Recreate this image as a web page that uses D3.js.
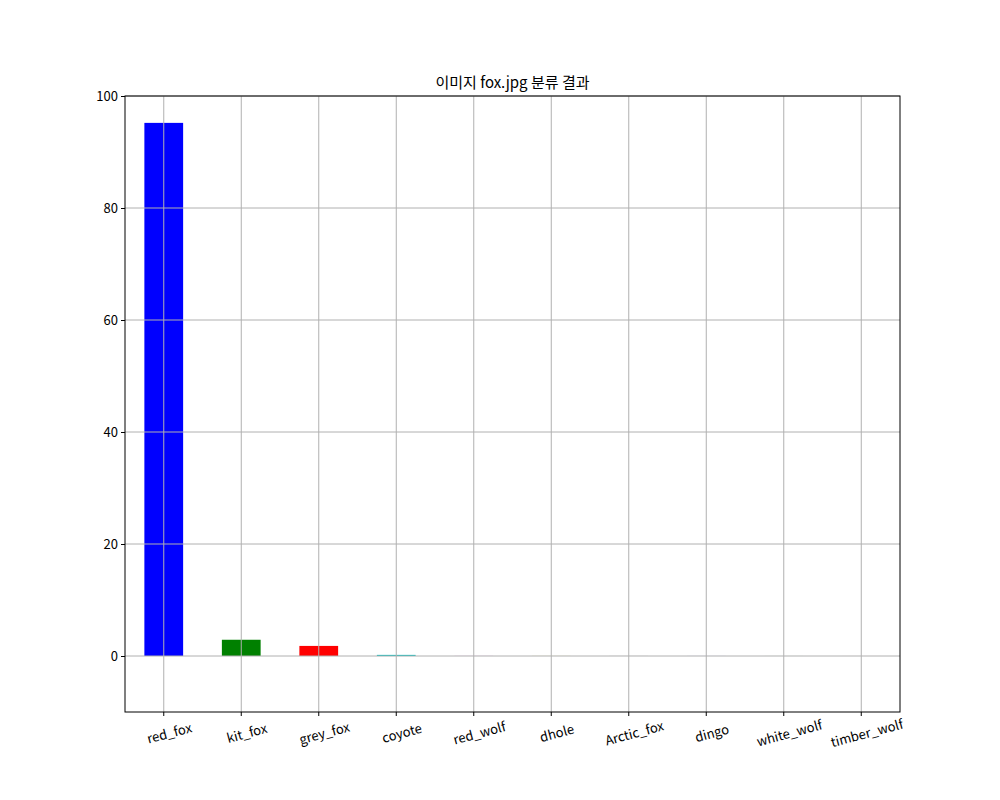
<!DOCTYPE html>
<html><head><meta charset="utf-8">
<script src="https://cdn.jsdelivr.net/npm/d3@7"></script>
<style>body{margin:0;background:#fff}text{font-family:"Noto Sans CJK KR","Noto Sans",sans-serif}</style>
</head><body><div id="chart"></div>
<script>
const categories = ["red_fox","kit_fox","grey_fox","coyote","red_wolf","dhole","Arctic_fox","dingo","white_wolf","timber_wolf"]
const values = [95.2, 2.9, 1.8, 0.2, 0.01, 0.01, 0.005, 0.005, 0.003, 0.002]
const colors = ["#0000ff","#008000","#ff0000","#00bfbf","#bf00bf","#bfbf00","#000000","#0000ff","#008000","#ff0000"]
const yTicks = [0, 20, 40, 60, 80, 100]

const width = 1000, height = 800
const m = {left: 125, right: 100, top: 96, bottom: 88}
const svg = d3.select("#chart").append("svg").attr("width", width).attr("height", height)

const x = d3.scaleBand().domain(categories).range([m.left, width - m.right])
	.paddingInner(0.5).paddingOuter(0.25)
const y = d3.scaleLinear().domain([-10, 100]).range([height - m.bottom, m.top])

svg.selectAll("rect.bar").data(values).enter()
	.append("rect").attr("class", "bar")
	.attr("x", (d, i) => x(categories[i]))
	.attr("width", x.bandwidth())
	.attr("y", d => y(d))
	.attr("height", d => y(0) - y(d))
	.attr("fill", (d, i) => colors[i])

// grid sits above the bars
const grid = svg.append("g").attr("stroke", "#b0b0b0").attr("stroke-width", 1)
grid.selectAll("line.v").data(categories).enter().append("line")
	.attr("x1", d => x(d) + x.bandwidth() / 2).attr("x2", d => x(d) + x.bandwidth() / 2)
	.attr("y1", m.top).attr("y2", height - m.bottom)
grid.selectAll("line.h").data(yTicks).enter().append("line")
	.attr("y1", d => y(d)).attr("y2", d => y(d))
	.attr("x1", m.left).attr("x2", width - m.right)

const xAxis = svg.append("g").attr("transform", `translate(0,${height - m.bottom})`)
	.call(d3.axisBottom(x).tickSizeOuter(0).tickSize(4))
xAxis.selectAll("text").attr("font-size", 13).attr("fill", "#000")
	.attr("text-anchor", "middle").attr("dy", "1.2em")
	.attr("transform", "rotate(-15) translate(0,4)")
xAxis.select(".domain").remove()

const yAxis = svg.append("g").attr("transform", `translate(${m.left},0)`)
	.call(d3.axisLeft(y).tickValues(yTicks).tickSizeOuter(0).tickSize(4))
yAxis.selectAll("text").attr("font-size", 13).attr("fill", "#000")
yAxis.select(".domain").remove()

svg.append("rect").attr("x", m.left).attr("y", m.top)
	.attr("width", width - m.left - m.right).attr("height", height - m.top - m.bottom)
	.attr("fill", "none").attr("stroke", "#000")

svg.append("text").attr("x", (m.left + width - m.right) / 2).attr("y", 88)
	.attr("text-anchor", "middle").attr("font-size", 15).text("이미지 fox.jpg 분류 결과")
</script></body></html>
